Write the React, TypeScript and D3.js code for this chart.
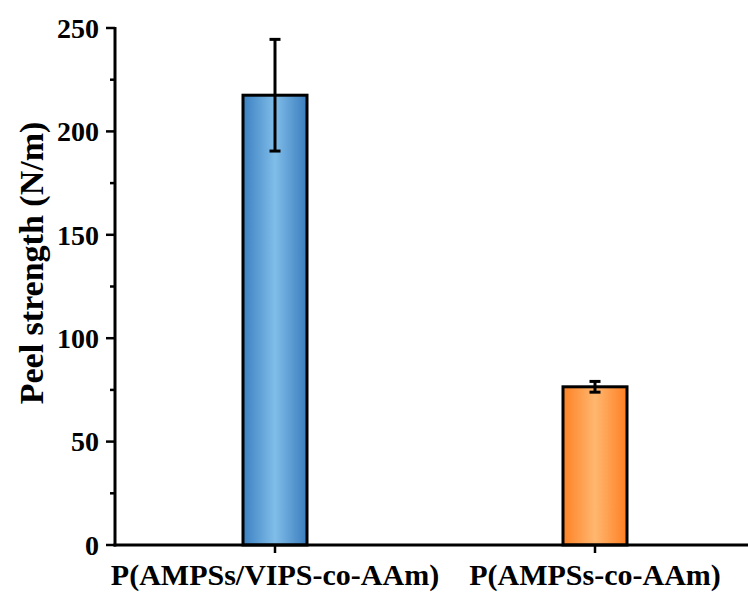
import React, { useEffect, useRef } from 'react';
import * as d3 from 'd3';

const categories = ['P(AMPSs/VIPS-co-AAm)', 'P(AMPSs-co-AAm)'];
const peelValues = [217.5, 76.5];
const peelErrors = [27, 2.6];
const yTicks = [0, 50, 100, 150, 200, 250];
const yMinorTicks = [25, 75, 125, 175, 225];
const barGradients = [
  ['#3b80c1', '#80bde9', '#3a7cbe'],
  ['#fe8124', '#ffb770', '#fe7f22'],
];

const width = 748;
const height = 592;
const margin = { top: 28, left: 115, bottom: 47, right: 0 };
const font = "'Liberation Serif', 'Times New Roman', serif";

export default function App() {
  const ref = useRef<SVGSVGElement>(null);

  useEffect(() => {
    const svg = d3.select(ref.current);
    svg.selectAll('*').remove();

    const x0 = margin.left;
    const y0 = height - margin.bottom;

    const x = d3.scaleBand<string>()
      .domain(categories)
      .range([x0, 755])
      .paddingInner(0.8)
      .paddingOuter(0.4);

    const y = d3.scaleLinear().domain([0, 250]).range([y0, margin.top]);

    const defs = svg.append('defs');
    barGradients.forEach((cols, i) => {
      const g = defs.append('linearGradient')
        .attr('id', 'grad' + i)
        .attr('x1', '0%').attr('x2', '100%')
        .attr('y1', '0%').attr('y2', '0%');
      g.append('stop').attr('offset', '0%').attr('stop-color', cols[0]);
      g.append('stop').attr('offset', '50%').attr('stop-color', cols[1]);
      g.append('stop').attr('offset', '100%').attr('stop-color', cols[2]);
    });

    // bars
    svg.selectAll('rect.bar')
      .data(peelValues)
      .enter()
      .append('rect')
      .attr('class', 'bar')
      .attr('x', (d, i) => x(categories[i])!)
      .attr('width', x.bandwidth())
      .attr('y', d => y(d))
      .attr('height', d => y0 - y(d))
      .attr('fill', (d, i) => `url(#grad${i})`)
      .attr('stroke', '#000')
      .attr('stroke-width', 3);

    // error bars
    const eb = svg.append('g').attr('stroke', '#000').attr('stroke-width', 3);
    peelValues.forEach((v, i) => {
      const cx = x(categories[i])! + x.bandwidth() / 2;
      const hi = y(v + peelErrors[i]);
      const lo = y(v - peelErrors[i]);
      eb.append('line').attr('x1', cx).attr('x2', cx).attr('y1', hi).attr('y2', lo);
      eb.append('line').attr('x1', cx - 5.5).attr('x2', cx + 5.5).attr('y1', hi).attr('y2', hi);
      eb.append('line').attr('x1', cx - 5.5).attr('x2', cx + 5.5).attr('y1', lo).attr('y2', lo);
    });

    // y axis
    const ya = svg.append('g');
    ya.append('line')
      .attr('x1', x0).attr('x2', x0)
      .attr('y1', margin.top - 1).attr('y2', y0 + 1.5)
      .attr('stroke', '#000').attr('stroke-width', 3);
    ya.selectAll('line.major')
      .data(yTicks)
      .enter()
      .append('line')
      .attr('x1', x0 - 9).attr('x2', x0)
      .attr('y1', d => y(d)).attr('y2', d => y(d))
      .attr('stroke', '#000').attr('stroke-width', 2.5);
    ya.selectAll('line.minor')
      .data(yMinorTicks)
      .enter()
      .append('line')
      .attr('x1', x0 - 5).attr('x2', x0)
      .attr('y1', d => y(d)).attr('y2', d => y(d))
      .attr('stroke', '#000').attr('stroke-width', 2.5);
    ya.selectAll('text')
      .data(yTicks)
      .enter()
      .append('text')
      .attr('x', x0 - 16)
      .attr('y', d => y(d))
      .attr('dy', '0.35em')
      .attr('text-anchor', 'end')
      .style('font-family', font)
      .style('font-weight', 'bold')
      .style('font-size', '28px')
      .text(d => d);

    // x axis
    const xa = svg.append('g');
    xa.append('line')
      .attr('x1', x0 - 1.5).attr('x2', width)
      .attr('y1', y0).attr('y2', y0)
      .attr('stroke', '#000').attr('stroke-width', 3);
    xa.selectAll('line.tick')
      .data(categories)
      .enter()
      .append('line')
      .attr('x1', d => x(d)! + x.bandwidth() / 2)
      .attr('x2', d => x(d)! + x.bandwidth() / 2)
      .attr('y1', y0).attr('y2', y0 + 8)
      .attr('stroke', '#000').attr('stroke-width', 2.5);
    xa.selectAll('text')
      .data(categories)
      .enter()
      .append('text')
      .attr('x', d => x(d)! + x.bandwidth() / 2)
      .attr('y', y0 + 40)
      .attr('text-anchor', 'middle')
      .style('font-family', font)
      .style('font-weight', 'bold')
      .style('font-size', '30px')
      .text(d => d);

    // y title
    svg.append('text')
      .attr('transform', `translate(43,263) rotate(-90)`)
      .attr('text-anchor', 'middle')
      .style('font-family', font)
      .style('font-weight', 'bold')
      .style('font-size', '34px')
      .text('Peel strength (N/m)');
  }, []);

  return (
    <svg ref={ref} width={width} height={height}
      style={{ position: 'absolute', left: 0, top: 0, background: '#fff' }} />
  );
}
